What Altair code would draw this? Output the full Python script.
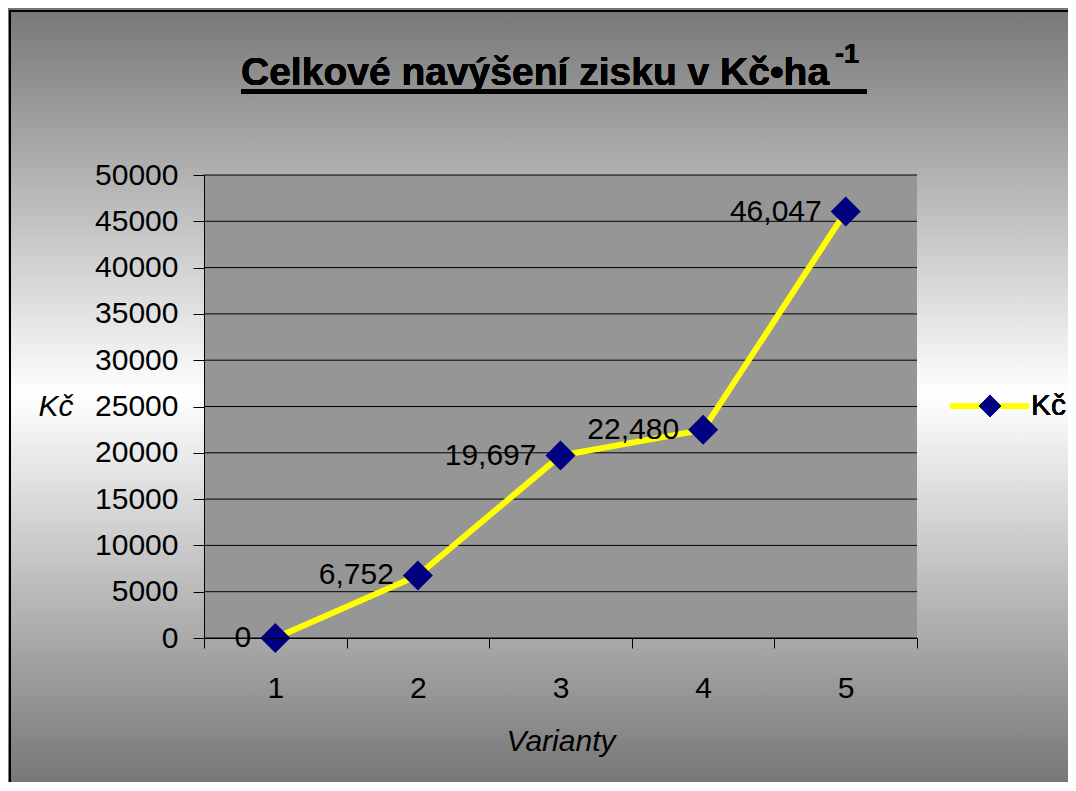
import altair as alt
import pandas as pd

categories = ["1", "2", "3", "4", "5"]
values = [0, 6752, 19697, 22480, 46047]
y_ticks = [0, 5000, 10000, 15000, 20000, 25000, 30000, 35000, 40000, 45000, 50000]

title_main = "Celkové navýšení zisku v Kč•ha"
title_sup = "-1"
series_name = "Kč"
x_title = "Varianty"
y_title = "Kč"

df = pd.DataFrame({"var": categories, "val": values})
grid_df = pd.DataFrame({"g": y_ticks})

W, H = 713, 463
PL, PT, PR, PB = 196, 167, 151, 144
FONT = "Liberation Sans"

xenc = alt.X(
    "var:N",
    sort=categories,
    bandPosition=0.5,
    scale=alt.Scale(type="band", paddingInner=0, paddingOuter=0),
    axis=alt.Axis(
        title=x_title, labelAngle=0, tickBand="extent", grid=False,
        labelFontSize=30, labelFont=FONT, labelColor="black", labelPadding=25,
        tickSize=10, tickColor="black", domainColor="black",
        titleFont=FONT, titleFontSize=30, titleFontStyle="italic", titleFontWeight="normal",
        titleColor="black", titleY=112, titleBaseline="alphabetic", zindex=1,
    ),
)
yscale = alt.Scale(domain=[0, 50000], nice=False)
yenc = alt.Y(
    "val:Q",
    scale=yscale,
    axis=alt.Axis(
        title=y_title, values=y_ticks, format="d", grid=False,
        labelFontSize=30, labelFont=FONT, labelColor="black", labelPadding=15,
        tickSize=11, tickColor="black", domainColor="black",
        titleFont=FONT, titleFontSize=30, titleFontStyle="italic", titleFontWeight="normal",
        titleColor="black", titleAngle=0, titleAlign="right", titleBaseline="middle",
        titleX=-131, titleY=H / 2, zindex=1,
    ),
)

gradient = alt.LinearGradient(
    gradient="linear",
    stops=[
        alt.GradientStop(offset=0, color="#777777"),
        alt.GradientStop(offset=0.5, color="#ffffff"),
        alt.GradientStop(offset=1, color="#777777"),
    ],
    x1=0, x2=0, y1=0, y2=1,
)

bg = alt.Chart(df).mark_rect(fill=gradient).encode(
    x=alt.value(-196), x2=alt.value(W + PR),
    y=alt.value(-167), y2=alt.value(H + PB),
)
border = alt.Chart(df).mark_rect(fill=None, stroke="black", strokeWidth=2).encode(
    x=alt.value(-194), x2=alt.value(W + PR + 300),
    y=alt.value(-164), y2=alt.value(H + PB + 300),
)
plotbg = alt.Chart(df).mark_rect(fill="#969696").encode(
    x=alt.value(0), x2=alt.value(W), y=alt.value(0), y2=alt.value(H)
)
grid = alt.Chart(grid_df).mark_rule(color="black", strokeWidth=1).encode(
    y=alt.Y("g:Q", scale=yscale), x=alt.value(0), x2=alt.value(W)
)
line = alt.Chart(df).mark_line(color="#ffff00", strokeWidth=6).encode(x=xenc, y=yenc)
pts = alt.Chart(df).mark_point(shape="diamond", filled=True, color="#000080", size=900, opacity=1).encode(
    x=xenc, y=yenc
)
labels = alt.Chart(df).mark_text(
    align="right", baseline="middle", dx=-24, fontSize=30, font=FONT, fontWeight="normal", color="black"
).encode(x=xenc, y=yenc, text=alt.Text("val:Q", format=","))

t_main = alt.Chart(df).mark_text(
    align="left", baseline="alphabetic", fontSize=39, fontWeight="bold", font=FONT, color="black"
).encode(x=alt.value(37), y=alt.value(-90), text=alt.value(title_main))
t_sup = alt.Chart(df).mark_text(
    align="left", baseline="alphabetic", fontSize=27, fontWeight="bold", font=FONT, color="black"
).encode(x=alt.value(631), y=alt.value(-112), text=alt.value(title_sup))
t_ul = alt.Chart(df).mark_rect(fill="black").encode(
    x=alt.value(37), x2=alt.value(663), y=alt.value(-86), y2=alt.value(-81)
)

leg_line = alt.Chart(df).mark_rule(color="#ffff00", strokeWidth=6, strokeCap="round").encode(
    x=alt.value(749), x2=alt.value(822), y=alt.value(231)
)
leg_pt = alt.Chart(df).mark_point(shape="diamond", filled=True, color="#000080", size=480, opacity=1).encode(
    x=alt.value(786), y=alt.value(231)
)
leg_txt = alt.Chart(df).mark_text(
    align="left", baseline="middle", fontSize=30, font=FONT, fontWeight="normal", color="black"
).encode(x=alt.value(827), y=alt.value(231), text=alt.value(series_name))

chart = alt.layer(
    bg, border, plotbg, grid, line, pts, labels, t_main, t_sup, t_ul, leg_line, leg_pt, leg_txt
).properties(
    width=W, height=H,
    autosize=alt.AutoSizeParams(type="none"),
    padding={"left": PL, "top": PT, "right": PR, "bottom": PB},
).configure_view(stroke=None).configure(background="white")

chart.save("out.html", embed_options={"renderer": "svg", "actions": False})
